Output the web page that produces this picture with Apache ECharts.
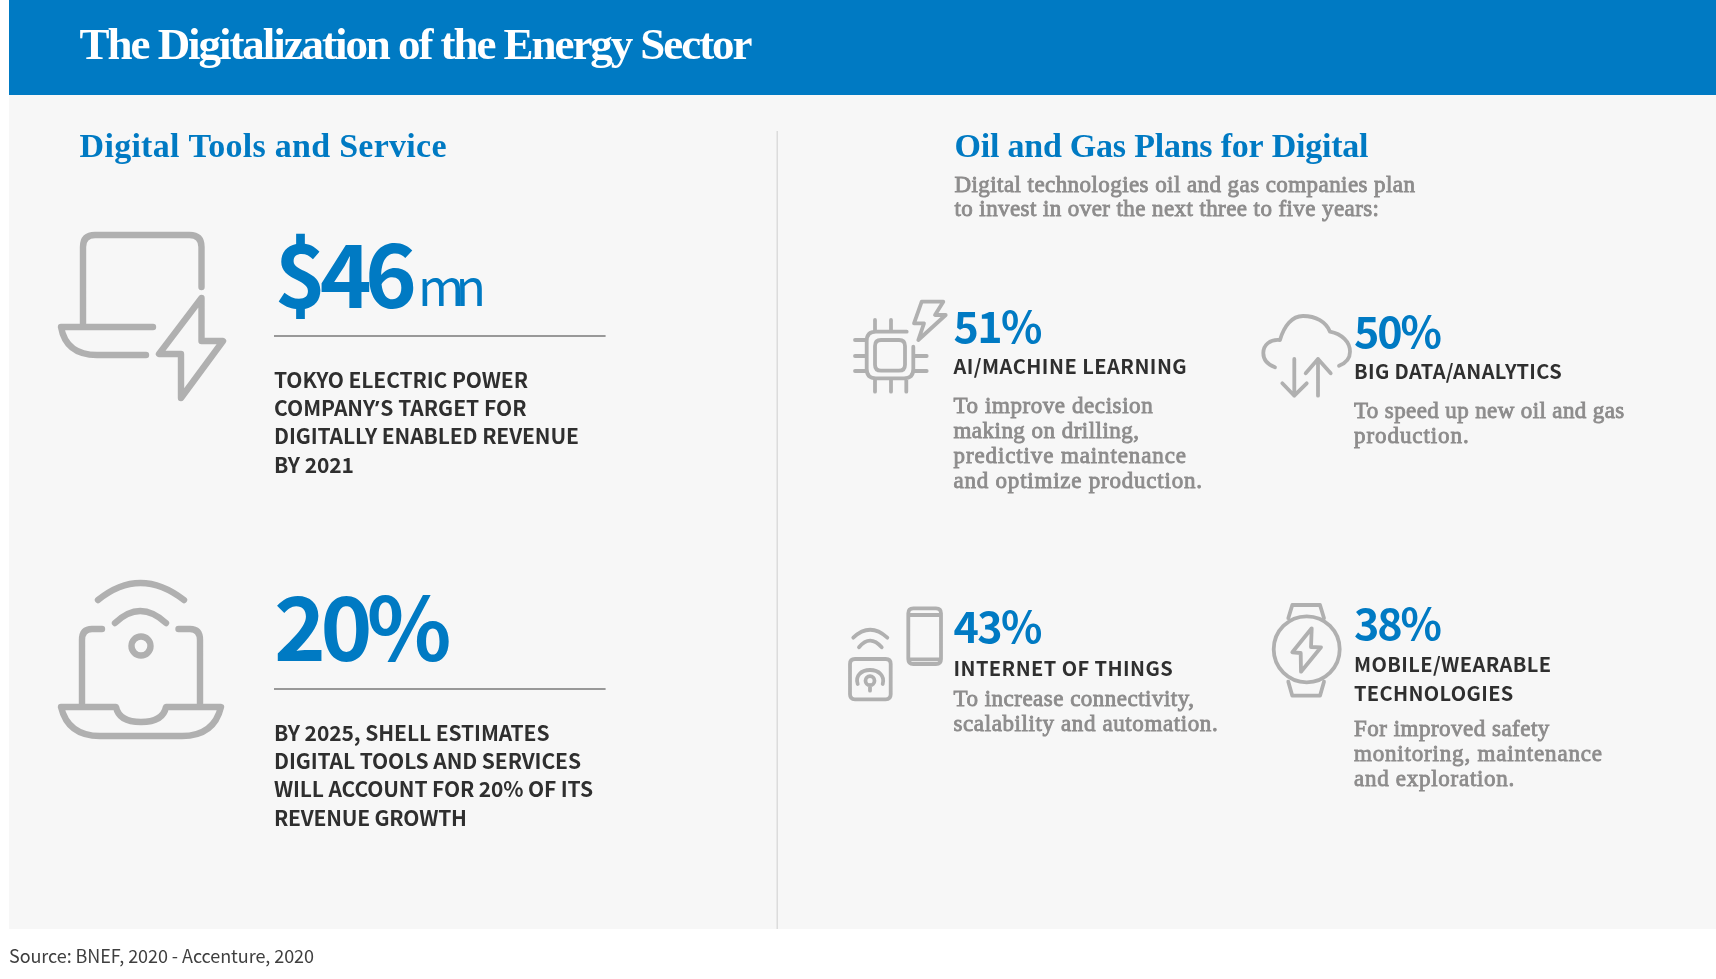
<!DOCTYPE html>
<html>
<head>
<meta charset="utf-8">
<title>The Digitalization of the Energy Sector</title>
<style>
html,body{margin:0;padding:0;background:#fff}#c{width:1716px;height:979px}
@font-face{font-family:"ApostropheFix";font-weight:bold;src:local("Noto Sans Bold"),local("NotoSans-Bold"),local("Liberation Sans Bold"),local("LiberationSans-Bold");unicode-range:U+2019}
</style>
<script src="https://cdn.jsdelivr.net/npm/echarts@6/dist/echarts.min.js"></script>
</head>
<body>
<div id="c"></div>
<script>
// ---- content ----
const chartTitle = 'The Digitalization of the Energy Sector';
const sectionTitles = ['Digital Tools and Service', 'Oil and Gas Plans for Digital'];
const introLines = ['Digital technologies oil and gas companies plan', 'to invest in over the next three to five years:'];
const sourceNote = 'Source: BNEF, 2020 - Accenture, 2020';

const statValues = [46, 20];
const statPrefixes = ['$', ''];
const statSuffixes = ['', '%'];
const statUnits = ['mn', ''];
const statLines = [
  ['TOKYO ELECTRIC POWER', 'COMPANY\u2019S TARGET FOR', 'DIGITALLY ENABLED REVENUE', 'BY 2021'],
  ['BY 2025, SHELL ESTIMATES', 'DIGITAL TOOLS AND SERVICES', 'WILL ACCOUNT FOR 20% OF ITS', 'REVENUE GROWTH']
];

const planValues = [51, 50, 43, 38];
const planHeads = [
  ['AI/MACHINE LEARNING'],
  ['BIG DATA/ANALYTICS'],
  ['INTERNET OF THINGS'],
  ['MOBILE/WEARABLE', 'TECHNOLOGIES']
];
const planBodies = [
  ['To improve decision', 'making on drilling,', 'predictive maintenance', 'and optimize production.'],
  ['To speed up new oil and gas', 'production.'],
  ['To increase connectivity,', 'scalability and automation.'],
  ['For improved safety', 'monitoring, maintenance', 'and exploration.']
];

// ---- layout (left x, baselines, right ends) ----
const SERIF = '"Liberation Serif"';
const SANS = '"ApostropheFix","Noto Sans CJK SC"';
const BLUE = '#007ac3', DARK = '#2f2f2f', GREY = '#8d8c8c', ICON = '#b0b0b0';

const statLayout = [
  {numX: 274.5, numBase: 308, numEnd: 417, unitX: 418, unitEnd: 486, unitBase: 306, rule: 336,
   base: [388, 416, 444, 473], ends: [528, 526.5, 579, 354]},
  {numX: 274, numBase: 661, numEnd: 451.5, rule: 689,
   base: [741, 769, 797, 826], ends: [549.5, 581, 593, 467]}
];
const planLayout = [
  {x: 953.5, numBase: 342.7, numEnd: 1042.5, headBase: [374], headEnd: [1186.7],
   bodyBase: [412.7, 437.5, 462.7, 487.7], bodyEnd: [1152.7, 1139, 1186, 1202]},
  {x: 1354, numBase: 348, numEnd: 1442, headBase: [379], headEnd: [1561.7],
   bodyBase: [418.3, 443.3], bodyEnd: [1624.3, 1468.7]},
  {x: 953.5, numBase: 643.3, numEnd: 1042.5, headBase: [676], headEnd: [1172.7],
   bodyBase: [706, 731], bodyEnd: [1194, 1217.7]},
  {x: 1354, numBase: 640.2, numEnd: 1442, headBase: [671.7, 700.7], headEnd: [1551, 1513.3],
   bodyBase: [735.7, 760.7, 785.7], bodyEnd: [1549.3, 1602, 1514.3]}
];

// ---- icons ----
const iconPaths = {
  iconLaptopBolt: 'M201.5 287V247Q201.5 235 189.5 235H95Q83 235 83 247V325M153 327H61Q66 355 97 355H146M201.5 298L159 354H181V398L223 341H201.5Z',
  iconLaptopWifi: 'M98 600Q140 566 184 600M115 623Q140 599 166 623M131.5 646a9.5 9.5 0 1 0 19 0a9.5 9.5 0 1 0 -19 0M102 629H92Q82 629 82 640V705M178.5 629H190Q200 629 200 640V705M116 707H61Q68 736 100 736H182Q214 736 221 707H166Q163 722 141 722Q119 722 116 707Z',
  iconChip: 'M921.7 301.7H943.3L935 315H945.7L918.3 340L924 323.3H914ZM906.7 331.7H876Q866.7 331.7 866.7 341V369Q866.7 378.3 876 378.3H904Q913.3 378.3 913.3 369V346.7M881 340H899Q905 340 905 346V364.7Q905 370.7 899 370.7H881Q875 370.7 875 364.7V346Q875 340 881 340ZM875 320V331M891 320V331M875 379V391.7M891 379V391.7M906.3 379V391.7M855 340H866M855 356H866M855 371H866M914 356H926.7M914 371H926.7',
  iconCloud: 'M1275 367.3C1266 364 1263.3 358 1263.3 353C1263.3 345 1270 339 1280 340C1284 326 1292 316 1303 316C1316 316 1326 322 1330 331.7C1342 334 1350 342 1350 351.7C1350 358 1346 363 1339 365.7M1294.3 359V395.7M1282.3 383.3L1294.3 395.7L1306.7 383.3M1318 395.7V359M1305.7 373.3L1318 359L1330.7 373.3',
  iconPhone: 'M913.3 608.3H936Q941 608.3 941 613.3V659Q941 664 936 664H913.3Q908.3 664 908.3 659V613.3Q908.3 608.3 913.3 608.3ZM908.3 615H941M908.3 659.3H941M853.3 637.7Q870 622 887.3 637.7M859 647.3Q870 634 881.7 647.3M855 659H885.7Q890.7 659 890.7 664V694.3Q890.7 699.3 885.7 699.3H855Q850 699.3 850 694.3V664Q850 659 855 659ZM857.7 684C855 676 861 670 870 670C879 670 885 676 882.7 684M865.5 680.7a4.5 4.5 0 1 0 9 0a4.5 4.5 0 1 0 -9 0M870 685V690.7',
  iconWatch: 'M1273.7 649.3a33 33 0 1 0 66 0a33 33 0 1 0 -66 0M1288.3 618.3L1292.3 605H1320L1324 618.3M1288.3 681.7L1292.3 695.7H1320L1324 681.7M1311.7 628.3L1292.3 652.3L1300.7 653L1301 671.7L1321 647.3L1311 647Z'
};
const iconWidths = {iconLaptopBolt: 6.4, iconLaptopWifi: 6.4, iconChip: 3.8, iconCloud: 3.8, iconPhone: 3.8, iconWatch: 3.8};

// ---- tracking: the canvas letterSpacing, per string ----
const tracking = {};
['fillText', 'strokeText'].forEach(fn => {
  const orig = CanvasRenderingContext2D.prototype[fn];
  CanvasRenderingContext2D.prototype[fn] = function (s, x, y) {
    this.letterSpacing = (tracking[s] || 0) + 'px';
    const r = orig.call(this, s, x, y);
    this.letterSpacing = '0px';
    return r;
  };
});

// ---- helpers ----
const measure = document.createElement('canvas').getContext('2d');
function text(str, x, base, size, weight, color, family, end, extra) {
  const font = weight + ' ' + size + 'px ' + family;
  measure.font = font;
  measure.textBaseline = 'middle';
  const m = measure.measureText(str);
  const off = Math.abs(m.alphabeticBaseline || 0);
  if (end && str.length > 1) tracking[str] = (end - x - m.width) / (str.length - 1);
  return {
    type: 'text', x: x, y: base - off, silent: true,
    style: Object.assign({text: str, x: 0, y: 0, fill: color, align: 'left', verticalAlign: 'middle', font: font}, extra || {})
  };
}
function box(x, y, w, h, fill) {
  return {type: 'rect', silent: true, shape: {x: x, y: y, width: w, height: h}, style: {fill: fill}};
}

function draw() {
  const medium = {stroke: GREY, lineWidth: 0.85};
  const els = [];
  els.push(box(9, 0, 1707, 95, BLUE));
  els.push(box(9, 95, 1707, 834, '#f7f7f7'));
  els.push(box(776.5, 131, 1.5, 798, '#dcdcdc'));
  els.push(text(chartTitle, 79.6, 58.5, 45, 'bold', '#ffffff', SERIF, 752.5));
  els.push(text(sectionTitles[0], 79.6, 157, 34, 'bold', BLUE, SERIF, 446.5));
  els.push(text(sectionTitles[1], 954.5, 157, 34, 'bold', BLUE, SERIF, 1368.5));
  const introBase = [191.7, 216], introEnd = [1415, 1379];
  introLines.forEach((t, i) => els.push(text(t, 954.5, introBase[i], 23, 'normal', GREY, SERIF, introEnd[i], medium)));

  statValues.forEach((v, i) => {
    const L = statLayout[i];
    els.push(text(statPrefixes[i] + v + statSuffixes[i], L.numX, L.numBase, 88, 'bold', BLUE, SANS, L.numEnd));
    if (statUnits[i]) els.push(text(statUnits[i], L.unitX, L.unitBase, 50, 'normal', BLUE, SANS, L.unitEnd));
    els.push(box(274, L.rule - 1, 331.6, 2, '#999999'));
    statLines[i].forEach((t, j) => els.push(text(t, 274, L.base[j], 21, 'bold', DARK, SANS, L.ends[j])));
  });

  planValues.forEach((v, i) => {
    const L = planLayout[i];
    els.push(text(v + '%', L.x, L.numBase, 43, 'bold', BLUE, SANS, L.numEnd));
    planHeads[i].forEach((t, j) => els.push(text(t, L.x, L.headBase[j], 20, 'bold', DARK, SANS, L.headEnd[j])));
    planBodies[i].forEach((t, j) => els.push(text(t, L.x, L.bodyBase[j], 23, 'normal', GREY, SERIF, L.bodyEnd[j], medium)));
  });

  els.push(text(sourceNote, 9, 963, 18, 'normal', '#3f3f3f', SANS, 314));

  Object.keys(iconPaths).forEach(name => {
    echarts.graphic.registerShape(name, echarts.graphic.extendPath(iconPaths[name], {}));
    els.push({type: name, silent: true, style: {fill: 'none', stroke: ICON, lineWidth: iconWidths[name], lineCap: 'round', lineJoin: 'round'}});
  });

  const chart = echarts.init(document.getElementById('c'), null, {renderer: 'canvas', width: 1716, height: 979});
  chart.setOption({backgroundColor: '#ffffff', animation: false, graphic: {elements: els}});
}
document.fonts.load('bold 21px "ApostropheFix"', '\u2019').then(draw, draw);
</script>
</body>
</html>
